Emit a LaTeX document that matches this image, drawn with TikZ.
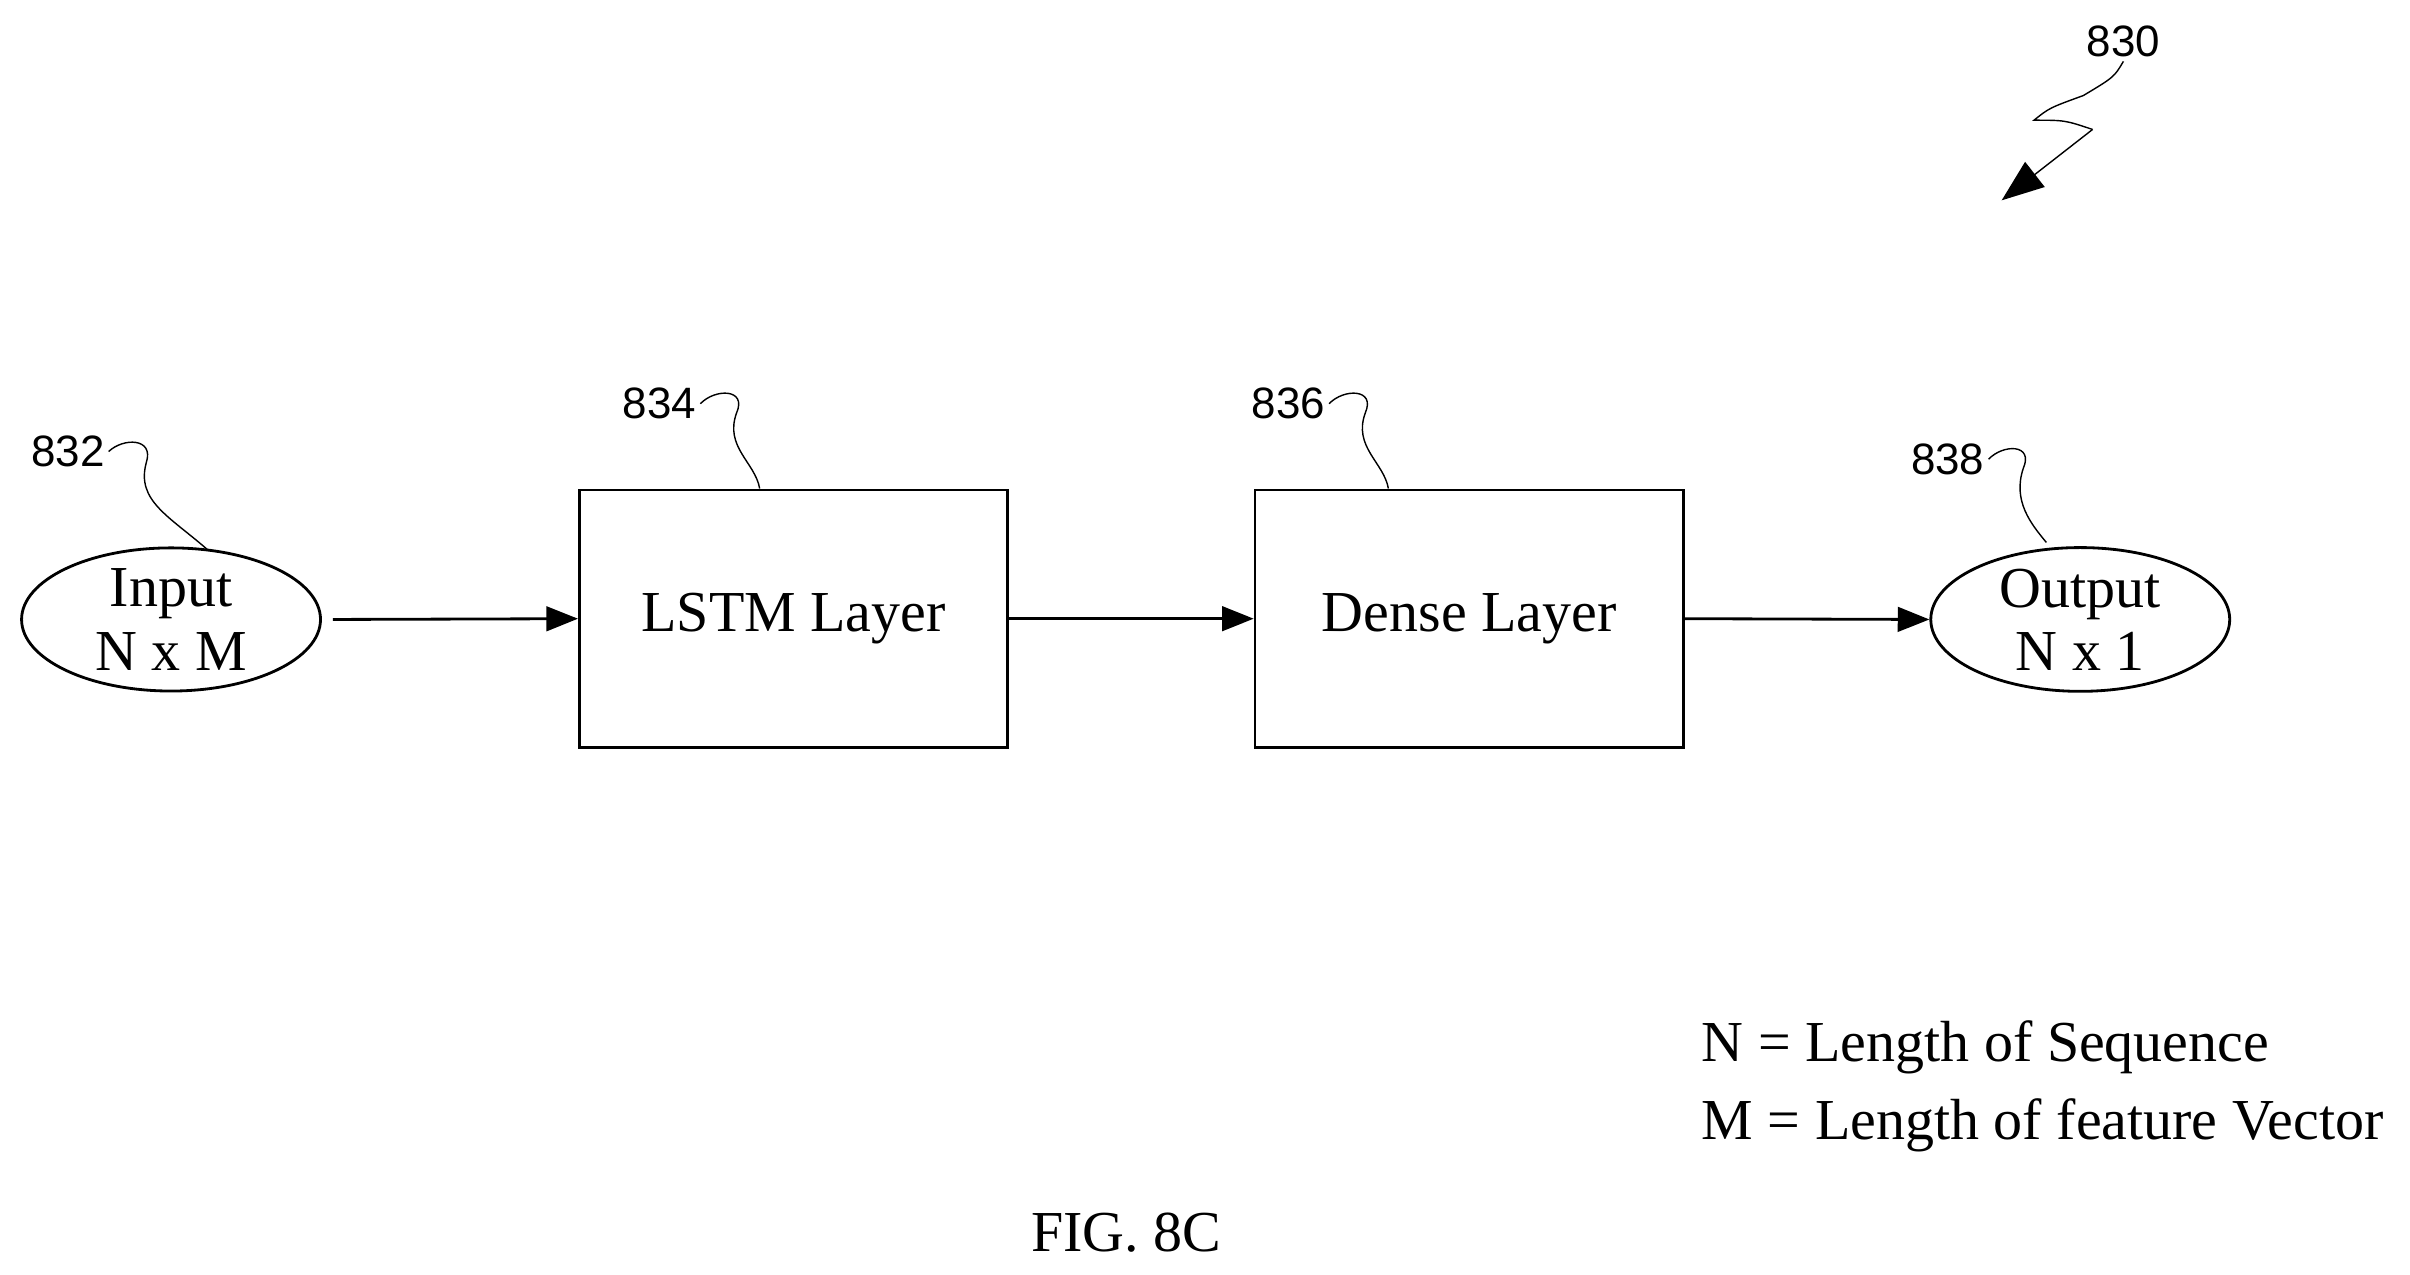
\documentclass[tikz,border=0pt]{standalone}
\usepackage{fontspec}
\setmainfont{Liberation Serif}
\newfontfamily\lab{Liberation Sans}
\usetikzlibrary{arrows.meta,shapes.geometric}
\begin{document}
\begin{tikzpicture}[x=0.01541cm,y=-0.01541cm,
  box/.style={draw,thick,minimum width=278*0.01541cm,minimum height=167*0.01541cm,font=\fontsize{16.5}{19}\selectfont},
  ell/.style={draw,thick,ellipse,minimum width=194*0.01541cm,minimum height=90*0.01541cm,inner sep=0pt,align=center,font=\fontsize{16.5}{18}\selectfont},
  arr/.style={thick,-{Triangle[length=9pt,width=7pt]}},
  num/.style={font=\lab\fontsize{12.5}{14}\selectfont,inner sep=1pt},
  lead/.style={thin}]
\useasboundingbox (0,0) rectangle (1564,827);
\node[ell] (in) at (111,402) {Input\\N x M};
\node[box] (lstm) at (515,401.5) {LSTM Layer};
\node[box] (dense) at (953.5,401.5) {Dense Layer};
\node[ell] (out) at (1350,402) {Output\\N x 1};
\coordinate (a0) at (216,402);
\draw[arr] (a0) -- (lstm.west);
\draw[arr] (lstm.east) -- (dense.west);
\draw[arr] (dense.east) -- (out.west);
\node[num] (n832) at (44,293) {832};
\node[num] (n834) at (428,262) {834};
\node[num] (n836) at (836,262) {836};
\node[num] (n838) at (1264,298) {838};
\node[num] (n830) at (1378,27) {830};
\draw[lead] (n832.east) .. controls (80,284) and (100,284) .. (95,300) .. controls (88,325) and (110,335) .. (135,357);
\draw[lead] (n834.east) .. controls (464,252) and (485,252) .. (478,268) .. controls (470,290) and (490,300) .. (493,317);
\draw[lead] (n836.east) .. controls (872,252) and (893,252) .. (886,268) .. controls (878,290) and (898,300) .. (901,317);
\draw[lead] (n838.east) .. controls (1300,288) and (1320,288) .. (1313,304) .. controls (1306,325) and (1318,340) .. (1328,352);
\coordinate (z1) at (1352,62);
\coordinate (z2) at (1320,78);
\coordinate (z3) at (1358,84);
\coordinate (zt) at (1299,130);
\draw[lead] (n830.south) .. controls (1372,50) .. (z1) .. controls (1330,70) .. (z2) .. controls (1340,78) .. (z3);
\draw[thin,-{Triangle[length=12pt,width=9pt]}] (z3) -- (zt);
\node[anchor=west,align=left,font=\fontsize{16.5}{22}\selectfont,inner sep=0pt] (leg) at (1104,705) {N = Length of Sequence\\M = Length of feature Vector};
\node[font=\fontsize{16.5}{19}\selectfont] (fig) at (731,800) {FIG. 8C};
\end{tikzpicture}
\end{document}
